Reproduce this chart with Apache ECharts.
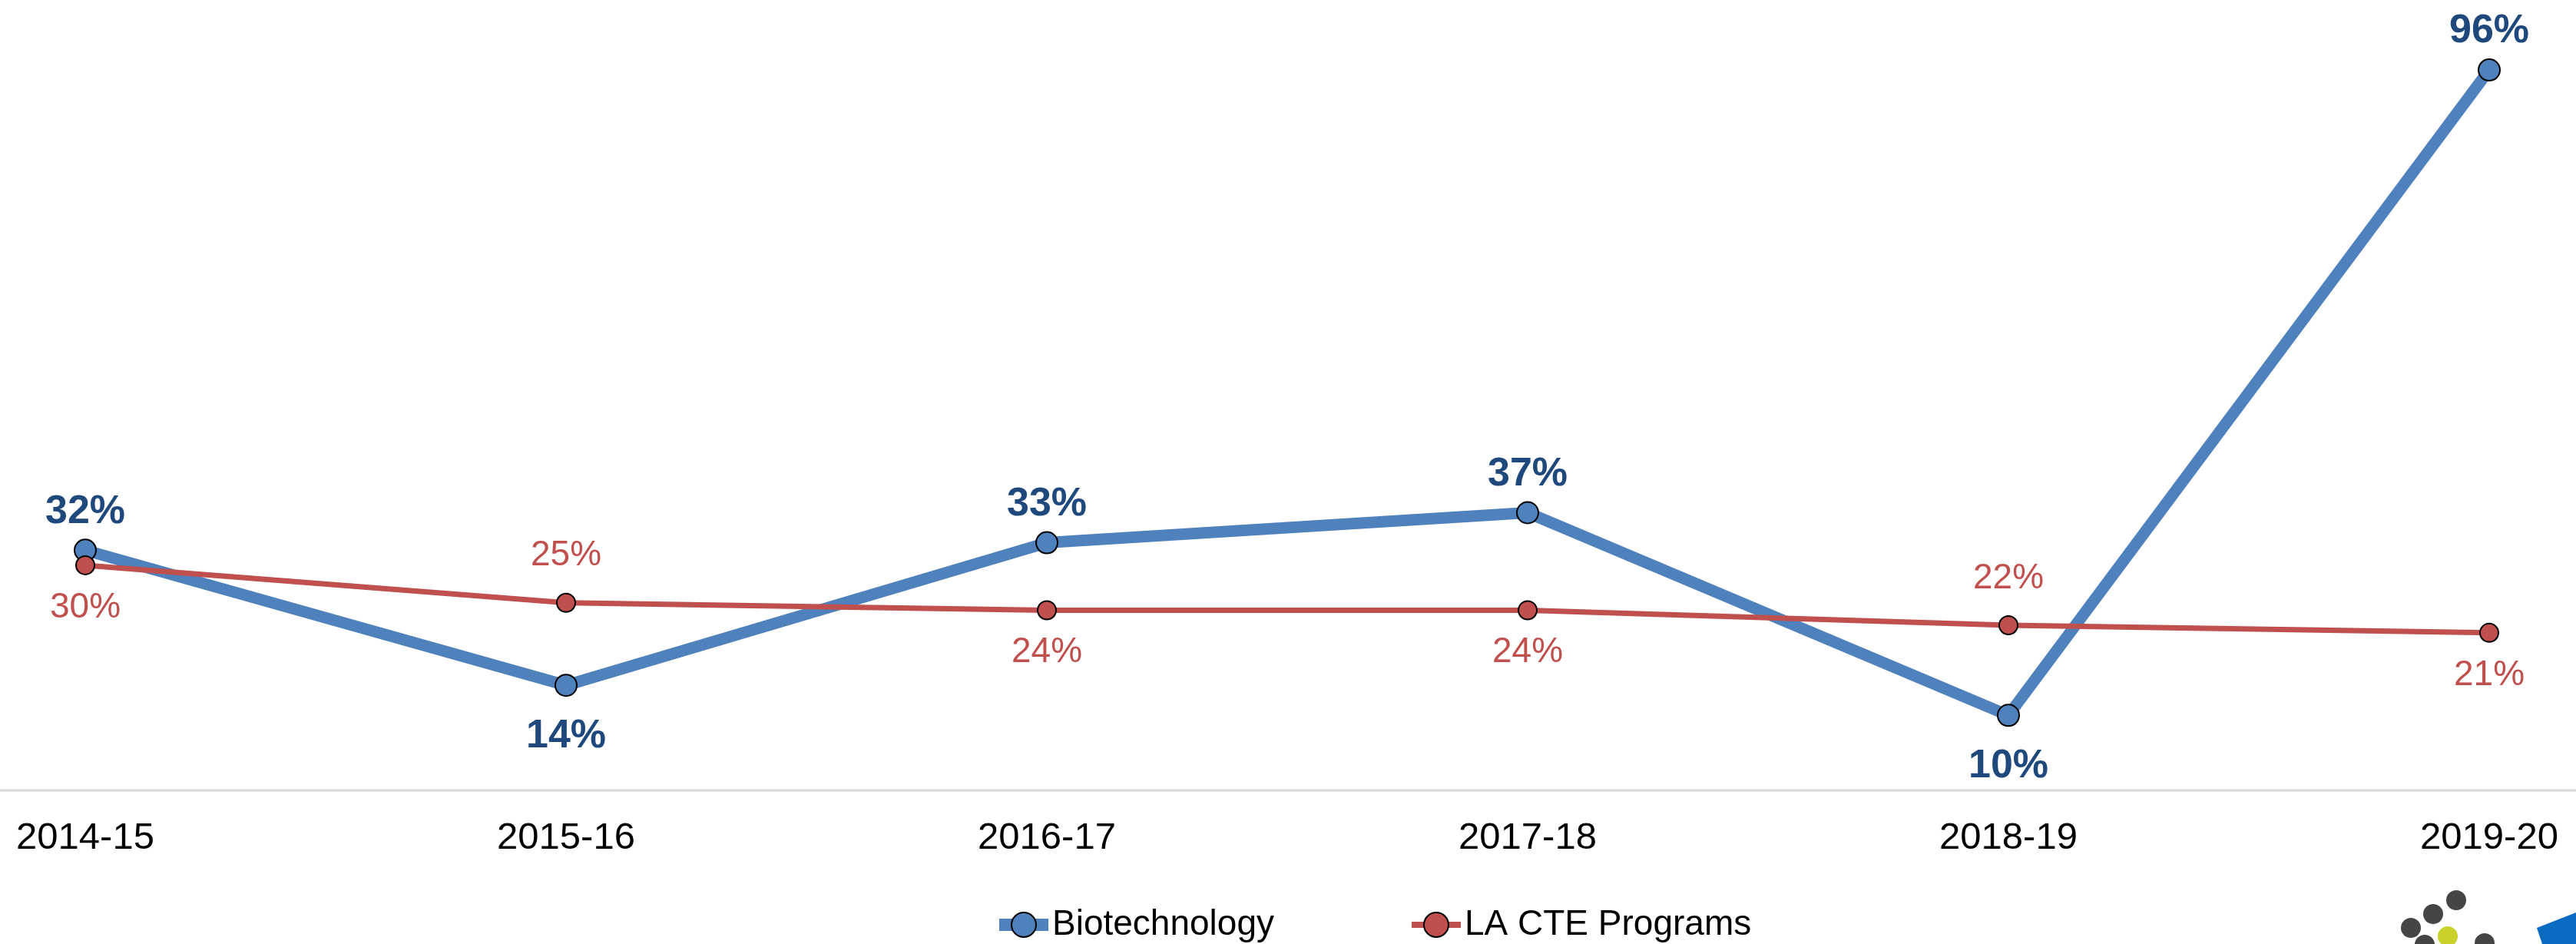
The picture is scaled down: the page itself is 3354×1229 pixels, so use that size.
<!DOCTYPE html>
<html>
<head>
<meta charset="utf-8">
<style>
  html, body { margin: 0; padding: 0; background: #fff; }
  #chart { width: 3354px; height: 1229px; }
</style>
<script src="https://cdn.jsdelivr.net/npm/echarts@6/dist/echarts.min.js"></script>
</head>
<body>
<div id="chart"></div>
<script>
// categories (school years)
var years = ["2014-15", "2015-16", "2016-17", "2017-18", "2018-19", "2019-20"];
// percent values
var biotech = [32, 14, 33, 37, 10, 96];
var laCte = [30, 25, 24, 24, 22, 21];
// where each value label sits
var biotechLabelPos = ["top", "bottom", "top", "top", "bottom", "top"];
var laCteLabelPos = ["bottom", "top", "bottom", "bottom", "top", "bottom"];

function withLabels(values, places, topGap, bottomGap) {
  return values.map(function (v, i) {
    return {
      value: v,
      label: { position: places[i], distance: places[i] == "top" ? topGap : bottomGap }
    };
  });
}

var myChart = echarts.init(document.getElementById("chart"));
var option = {
  backgroundColor: "#fff",
  animation: false,
  textStyle: { fontFamily: "Liberation Sans, Arial, sans-serif" },
  grid: { left: 111, right: 113, top: 52, bottom: 200 },
  legend: {
    top: 1176,
    left: 1288,
    itemWidth: 64,
    itemHeight: 40,
    itemGap: 175,
    textStyle: { fontSize: 46, color: "#000", fontFamily: "Liberation Sans, Arial, sans-serif" },
    data: [
      { name: "Biotechnology", lineStyle: { width: 16 } },
      { name: "LA CTE Programs", lineStyle: { width: 8 } }
    ]
  },
  xAxis: {
    type: "category",
    boundaryGap: false,
    data: years,
    axisLine: { show: false },
    axisTick: { show: false },
    axisLabel: { color: "#000", fontSize: 49, margin: 38 }
  },
  yAxis: {
    type: "value",
    min: 0,
    max: 100,
    show: false,
    splitLine: { show: false }
  },
  series: [
    {
      name: "Biotechnology",
      type: "line",
      data: withLabels(biotech, biotechLabelPos, 9, 25),
      symbol: "circle",
      symbolSize: 28,
      lineStyle: { color: "#4f81bd", width: 15 },
      itemStyle: { color: "#4f81bd", borderColor: "#000", borderWidth: 2 },
      label: {
        show: true,
        formatter: "{c}%",
        color: "#1f497d",
        fontSize: 52,
        fontWeight: "bold"
      }
    },
    {
      name: "LA CTE Programs",
      type: "line",
      data: withLabels(laCte, laCteLabelPos, 25, 19),
      symbol: "circle",
      symbolSize: 24,
      lineStyle: { color: "#c0504d", width: 7 },
      itemStyle: { color: "#c0504d", borderColor: "#000", borderWidth: 2 },
      label: {
        show: true,
        formatter: "{c}%",
        color: "#c0504d",
        fontSize: 46
      }
    }
  ],
  graphic: [
    // baseline runs the full width of the picture
    { type: "line", z: -1, shape: { x1: 0, y1: 1029, x2: 3354, y2: 1029 }, style: { stroke: "#d9d9d9", lineWidth: 3 } },
    // logo in the corner
    { type: "circle", shape: { cx: 3198, cy: 1172, r: 13 }, style: { fill: "#454545" } },
    { type: "circle", shape: { cx: 3168, cy: 1190, r: 13 }, style: { fill: "#454545" } },
    { type: "circle", shape: { cx: 3139, cy: 1208, r: 13 }, style: { fill: "#454545" } },
    { type: "circle", shape: { cx: 3187, cy: 1219, r: 13 }, style: { fill: "#c8d22a" } },
    { type: "circle", shape: { cx: 3157, cy: 1230, r: 13 }, style: { fill: "#454545" } },
    { type: "circle", shape: { cx: 3235, cy: 1228, r: 13 }, style: { fill: "#454545" } },
    { type: "polygon", shape: { points: [[3303, 1208], [3354, 1188], [3354, 1229], [3310, 1229]] }, style: { fill: "#0a6cc0" } }
  ]
};
myChart.setOption(option);
</script>
</body>
</html>
